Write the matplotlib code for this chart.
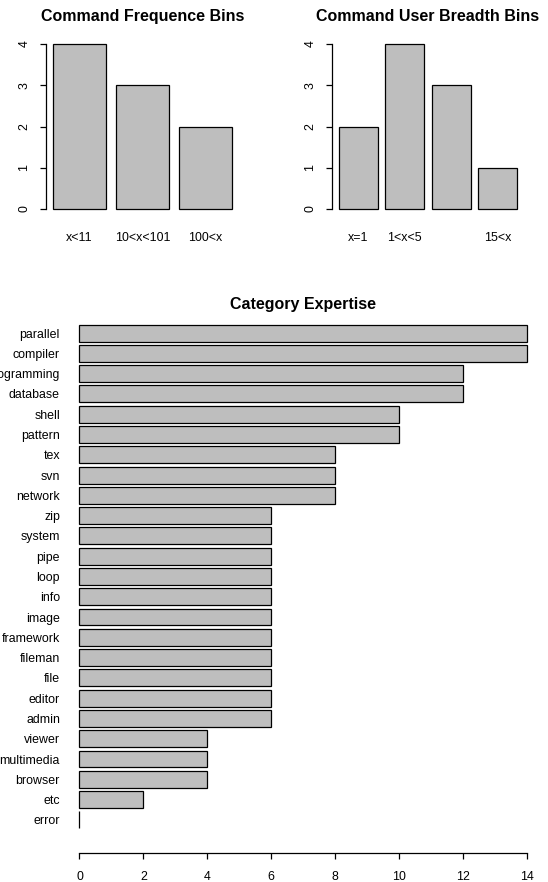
import matplotlib.pyplot as plt
import numpy as np

plt.rcParams['font.family'] = ['Liberation Sans', 'DejaVu Sans']

W, H = 548, 882

# bin counts for the two small charts
freq_labels = ["x<11", "10<x<101", "100<x"]
freq_counts = [4, 3, 2]

breadth_labels = ["x=1", "1<x<5", "", "15<x"]
breadth_counts = [2, 4, 3, 1]

# expertise per category, top to bottom
categories = ["parallel", "compiler", "programming", "database", "shell", "pattern",
              "tex", "svn", "network", "zip", "system", "pipe", "loop", "info",
              "image", "framework", "fileman", "file", "editor", "admin",
              "viewer", "multimedia", "browser", "etc", "error"]
expertise = [14, 14, 12, 12, 10, 10, 8, 8, 8, 6, 6, 6, 6, 6, 6, 6, 6, 6, 6, 6,
             4, 4, 4, 2, 0]

BAR = "#bebebe"
LW = 0.9
FS = 8.9
TFS = 11.5


def px_axes(fig, l, t, r, b):
    return fig.add_axes([l / W, 1 - b / H, (r - l) / W, (b - t) / H])


def bin_chart(ax, labels, counts, xlim):
    pos = 0.7 + 1.2 * np.arange(len(counts))
    ax.bar(pos, counts, width=1.0, color=BAR, edgecolor="black", linewidth=LW)
    ax.set_xlim(*xlim)
    ax.set_ylim(-0.16, 4.16)
    for s in ["top", "right", "bottom"]:
        ax.spines[s].set_visible(False)
    ax.spines["left"].set_bounds(0, 4)
    ax.spines["left"].set_linewidth(LW)
    ax.set_yticks(range(5))
    ax.set_yticklabels([str(i) for i in range(5)], rotation=90, va="center")
    ax.tick_params(axis="y", length=4.3, width=LW, pad=7, labelsize=FS)
    ax.set_xticks(pos)
    ax.set_xticklabels(labels)
    ax.tick_params(axis="x", length=0, pad=11.5, labelsize=FS)


fig = plt.figure(figsize=(W / 100, H / 100), dpi=100)

ax1 = px_axes(fig, 46, 37.4, 239, 215.6)
bin_chart(ax1, freq_labels, freq_counts, (0.064, 3.736))
fig.text(143 / W, 1 - 20.7 / H, "Command Frequence Bins", ha="center",
         va="baseline", fontsize=TFS, fontweight="bold")

ax2 = px_axes(fig, 332, 37.4, 524, 215.6)
bin_chart(ax2, breadth_labels, breadth_counts, (0.016, 4.984))
fig.text(428 / W, 1 - 20.7 / H, "Command User Breadth Bins", ha="center",
         va="baseline", fontsize=TFS, fontweight="bold")

# horizontal bars, first category on top
ax3 = px_axes(fig, 61.6, 304.5, 544.4, 853)
n = len(categories)
ypos = 0.7 + 1.2 * np.arange(n)
ax3.barh(ypos, expertise[::-1], height=1.0, color=BAR, edgecolor="black",
         linewidth=LW)
ax3.set_xlim(-0.56, 14.56)
ax3.set_ylim(-1.26, 31.19)
for s in ["top", "right", "left"]:
    ax3.spines[s].set_visible(False)
ax3.spines["bottom"].set_bounds(0, 14)
ax3.spines["bottom"].set_linewidth(LW)
ax3.set_xticks(range(0, 15, 2))
ax3.tick_params(axis="x", length=4.3, width=LW, pad=8.5, labelsize=FS)
ax3.set_yticks(ypos)
ax3.set_yticklabels(categories[::-1])
ax3.tick_params(axis="y", length=0, pad=1.2, labelsize=FS)
fig.text(303 / W, 1 - 309 / H, "Category Expertise", ha="center",
         va="baseline", fontsize=TFS, fontweight="bold")

fig.savefig("out.png", dpi=100)
